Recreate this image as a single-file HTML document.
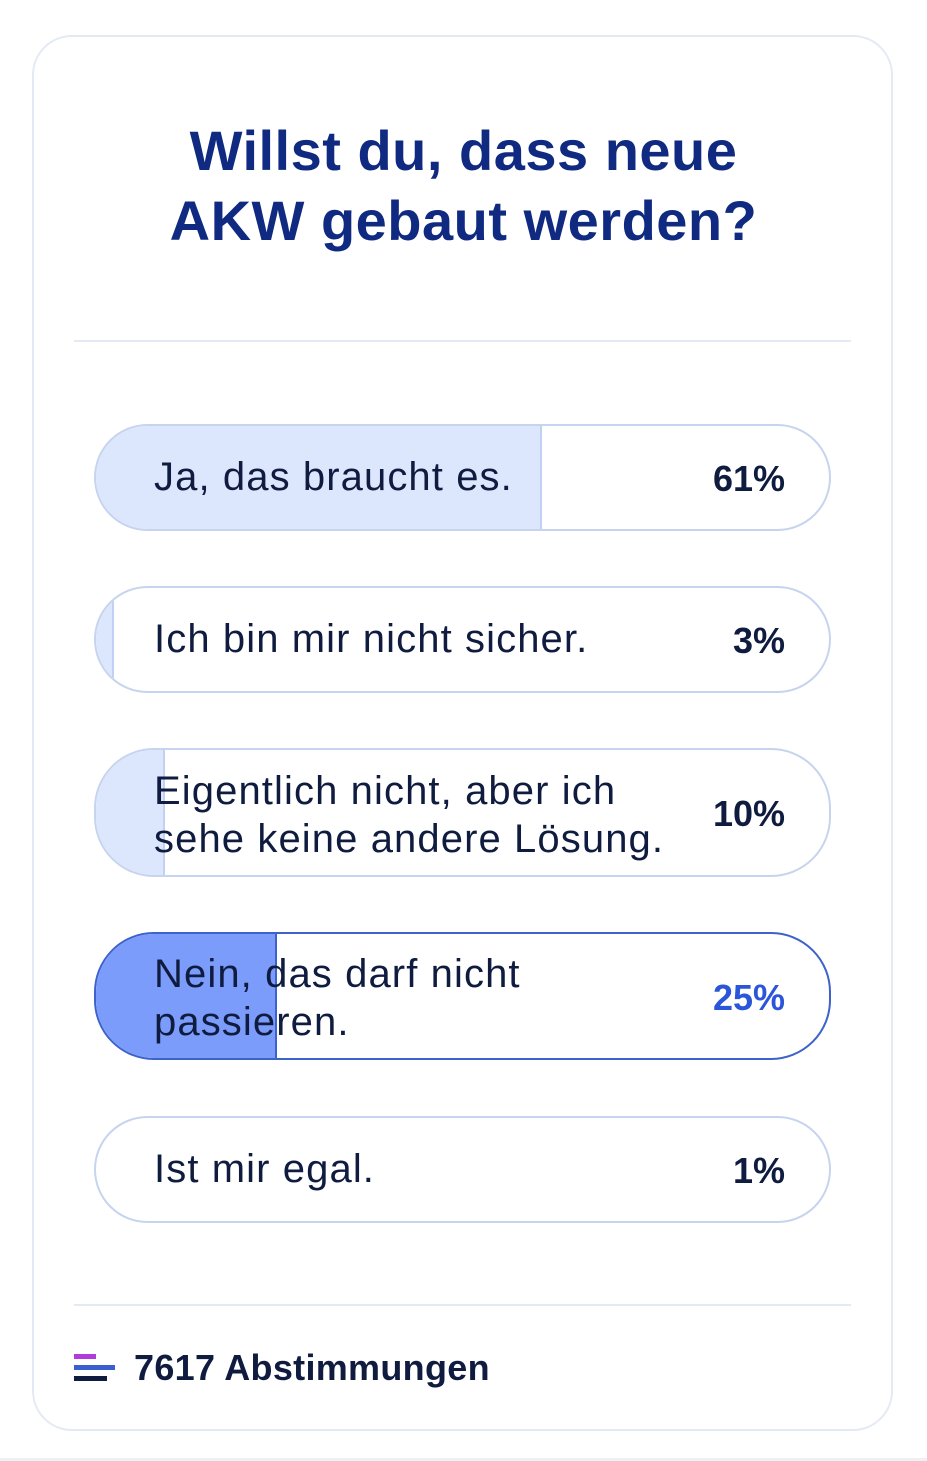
<!DOCTYPE html>
<html><head><style>
body{margin:0;width:927px;height:1461px;background:#fff;font-family:"Liberation Sans",sans-serif;position:relative;overflow:hidden}
.card{position:absolute;left:32px;top:35px;width:861px;height:1396px;border:2px solid #e4eaf4;border-radius:40px;box-sizing:border-box}
.title{position:absolute;left:0;width:927px;top:116px;text-align:center;font-weight:bold;font-size:56px;line-height:70px;color:#0f2a80;letter-spacing:0.5px}
.hr{position:absolute;left:74px;width:777px;height:2px;background:#e4eaf3}
.bar{position:absolute;left:94px;width:737px;border:2px solid #c7d4ee;border-radius:60px;box-sizing:border-box;overflow:hidden;background:#fff}
.fill{position:absolute;left:0;top:0;bottom:0;background:#dce6fc;border-right:2px solid #c2d1f3}
.lab{position:absolute;left:58px;font-size:40px;color:#0f1c3f;line-height:48px;letter-spacing:1.1px;white-space:nowrap}
.pct{position:absolute;right:44px;font-weight:bold;font-size:36px;color:#0f1c3f}
</style></head><body>
<div class="card"></div>
<div class="title">Willst du, dass neue<br>AKW gebaut werden?</div>
<div class="hr" style="top:340px"></div>
<div class="bar" style="top:424px;height:107px"><div class="fill" style="width:444px"></div><div class="lab" style="top:27px">Ja, das braucht es.</div><div class="pct" style="top:32px">61%</div></div>
<div class="bar" style="top:586px;height:107px"><div class="fill" style="width:16px"></div><div class="lab" style="top:27px">Ich bin mir nicht sicher.</div><div class="pct" style="top:32px">3%</div></div>
<div class="bar" style="top:748px;height:129px"><div class="fill" style="width:67px"></div><div class="lab" style="top:17px">Eigentlich nicht, aber ich<br>sehe keine andere Lösung.</div><div class="pct" style="top:43px">10%</div></div>
<div class="bar" style="top:932px;height:128px;border-color:#3d62c9"><div class="fill" style="width:179px;background:#7b9cfb;border-right-color:#3d62c9"></div><div class="lab" style="top:16px">Nein, das darf nicht<br>passieren.</div><div class="pct" style="top:43px;color:#2c56d9">25%</div></div>
<div class="bar" style="top:1116px;height:107px"><div class="lab" style="top:27px">Ist mir egal.</div><div class="pct" style="top:32px">1%</div></div>
<div class="hr" style="top:1304px"></div>
<div style="position:absolute;left:74px;top:1354px;width:22px;height:5px;background:#b23bdc"></div>
<div style="position:absolute;left:74px;top:1365px;width:41px;height:5px;background:#3b5fd0"></div>
<div style="position:absolute;left:74px;top:1376px;width:33px;height:5px;background:#0f1c3f"></div>
<div style="position:absolute;left:134px;top:1347px;font-weight:bold;font-size:36px;color:#0f1c3f;letter-spacing:0.3px">7617 Abstimmungen</div>
<div style="position:absolute;left:0;top:1458px;width:927px;height:3px;background:#eef0f4"></div>
</body></html>
